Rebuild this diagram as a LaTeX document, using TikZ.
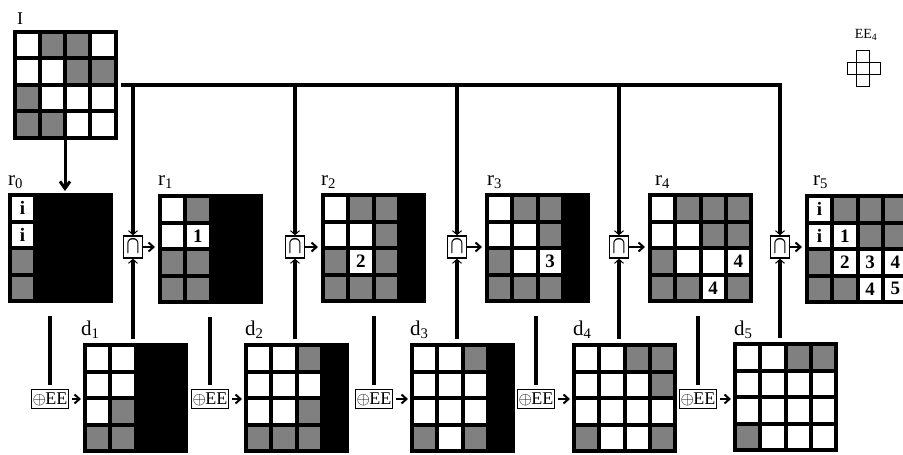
\documentclass[tikz,border=0pt]{standalone}
\usepackage{fontspec}
\setmainfont{Liberation Serif}
\usepackage{graphicx}
\usetikzlibrary{arrows.meta}
\definecolor{cellgray}{gray}{0.5}
\tikzset{
 gridbox/.style={fill=black, minimum width=105pt, minimum height=110pt, inner sep=0pt, outer sep=0pt},
 cell/.style={minimum width=21.25pt, minimum height=22.5pt, inner sep=0pt, outer sep=0pt, font=\fontsize{19}{19}\selectfont\bfseries},
 cW/.style={fill=white}, cG/.style={fill=cellgray}, cB/.style={fill=black},
 lab/.style={font=\fontsize{21}{21}\selectfont, inner sep=0pt, anchor=base west},
 capbox/.style={draw, line width=1.4pt, fill=white, minimum width=19pt, minimum height=22pt, inner sep=0pt},
 eebox/.style={draw, line width=1.2pt, fill=white, minimum width=35pt, minimum height=19pt, inner sep=1pt},
 busline/.style={line width=3.5pt},
 feed/.style={line width=3.5pt, -{Straight Barb[length=4pt,width=9pt,line width=1pt]}},
 plain/.style={line width=3.5pt},
 smallarr/.style={line width=2pt, -{Straight Barb[length=5pt,width=9pt]}},
}
\newcommand\pixgrid[4]{%
  \node[gridbox] (#1) at ({#2+52.5},{#3+55}) {};
  \foreach \f/\t [count=\k from 0] in {#4}{%
    \pgfmathtruncatemacro\gr{int(\k/4)}%
    \pgfmathtruncatemacro\gc{mod(\k,4)}%
    \node[cell,\f] (#1c\k) at ({#2+4+\gc*25.25+10.625},{#3+4+\gr*26.5+11.25}) {\t};
  }%
}
\newcommand\capsym{\fontsize{18}{18}\selectfont\scalebox{1}[1.45]{\boldmath$\cap$}}
\newcommand\eetext{{\fontsize{16}{16}\selectfont$\oplus$}\kern-0.5pt{\fontsize{18}{18}\selectfont EE}}
\begin{document}
\begin{tikzpicture}[x=1pt,y=-1pt]
\useasboundingbox (0,0) rectangle (903,455);
\clip (0,0) rectangle (903,455);
% grids
\pixgrid{I}{12.5}{29.5}{cW/{},cG/{},cG/{},cW/{}, cW/{},cW/{},cG/{},cG/{}, cG/{},cW/{},cW/{},cW/{}, cG/{},cG/{},cW/{},cW/{}}
\pixgrid{r0}{8}{193}{cW/i,cB/{},cB/{},cB/{}, cW/i,cB/{},cB/{},cB/{}, cG/{},cB/{},cB/{},cB/{}, cG/{},cB/{},cB/{},cB/{}}
\pixgrid{r1}{158}{194}{cW/{},cG/{},cB/{},cB/{}, cW/{},cW/1,cB/{},cB/{}, cG/{},cG/{},cB/{},cB/{}, cG/{},cG/{},cB/{},cB/{}}
\pixgrid{r2}{321}{193}{cW/{},cG/{},cG/{},cB/{}, cW/{},cW/{},cG/{},cB/{}, cG/{},cW/2,cG/{},cB/{}, cG/{},cG/{},cG/{},cB/{}}
\pixgrid{r3}{485}{193}{cW/{},cG/{},cG/{},cB/{}, cW/{},cW/{},cG/{},cB/{}, cG/{},cW/{},cW/3,cB/{}, cG/{},cG/{},cG/{},cB/{}}
\pixgrid{r4}{648}{193}{cW/{},cG/{},cG/{},cG/{}, cW/{},cW/{},cG/{},cG/{}, cG/{},cW/{},cW/{},cW/4, cG/{},cG/{},cW/4,cG/{}}
\pixgrid{r5}{805}{194}{cW/i,cG/{},cG/{},cG/{}, cW/i,cW/1,cG/{},cG/{}, cG/{},cW/2,cW/3,cW/4, cG/{},cG/{},cW/4,cW/5}
\pixgrid{d1}{83}{343}{cW/{},cW/{},cB/{},cB/{}, cW/{},cW/{},cB/{},cB/{}, cW/{},cG/{},cB/{},cB/{}, cG/{},cG/{},cB/{},cB/{}}
\pixgrid{d2}{244}{343}{cW/{},cW/{},cG/{},cB/{}, cW/{},cW/{},cW/{},cB/{}, cW/{},cW/{},cG/{},cB/{}, cG/{},cG/{},cG/{},cB/{}}
\pixgrid{d3}{410}{343}{cW/{},cW/{},cG/{},cB/{}, cW/{},cW/{},cW/{},cB/{}, cW/{},cW/{},cW/{},cB/{}, cG/{},cW/{},cG/{},cB/{}}
\pixgrid{d4}{572}{343}{cW/{},cW/{},cG/{},cG/{}, cW/{},cW/{},cW/{},cG/{}, cW/{},cW/{},cW/{},cW/{}, cG/{},cW/{},cW/{},cG/{}}
\pixgrid{d5}{733}{342}{cW/{},cW/{},cG/{},cG/{}, cW/{},cW/{},cW/{},cW/{}, cW/{},cW/{},cW/{},cW/{}, cG/{},cW/{},cW/{},cW/{}}
% labels
\node[lab, font=\fontsize{18}{18}\selectfont] (Il) at (17,24) {I};
\node[lab] (r0l) at (8,185) {r\textsubscript{0}};
\node[lab] (r1l) at (158,185) {r\textsubscript{1}};
\node[lab] (r2l) at (321,185) {r\textsubscript{2}};
\node[lab] (r3l) at (487,185) {r\textsubscript{3}};
\node[lab] (r4l) at (655,185) {r\textsubscript{4}};
\node[lab] (r5l) at (813,185) {r\textsubscript{5}};
\node[lab] (d1l) at (81,335) {d\textsubscript{1}};
\node[lab] (d2l) at (245,335) {d\textsubscript{2}};
\node[lab] (d3l) at (410,335) {d\textsubscript{3}};
\node[lab] (d4l) at (573,335) {d\textsubscript{4}};
\node[lab] (d5l) at (734,335) {d\textsubscript{5}};
% structuring element
\node[inner sep=0pt, font=\fontsize{14}{14}\selectfont] (eelabel) at (866,35) {EE\textsubscript{4}};
\draw[line width=0.9pt] (856,50) rectangle (869,86);
\draw[line width=0.9pt] (847,62) rectangle (880,74);
% operator boxes
\coordinate (busL) at (121,85);
\foreach \i/\x in {1/133,2/295,3/457,4/619,5/780}{
  \node[capbox] (cap\i) at (\x,247) {\capsym};
}
\foreach \i/\x in {1/50,2/210,3/374,4/536,5/698}{
  \node[eebox] (ee\i) at (\x,399) {\eetext};
}
% I -> r0
\draw[line width=3pt, -{Straight Barb[length=7pt,width=10pt]}, shorten >=2pt] (I.south) -- (I.south |- r0.north);
% bus
\draw[busline] (busL) -- ([xshift=1.75pt]cap5.north |- busL);
\foreach \i in {1,...,5}{
  \draw[feed] (cap\i.north |- busL) -- (cap\i.north);
}
% d -> cap
\foreach \i in {1,...,5}{
  \draw[feed, shorten <=4pt] (cap\i.south |- d\i.north) -- (cap\i.south);
}
% cap -> r
\draw[smallarr, shorten >=3pt] (cap1.east) -- (r1.west |- cap1.east);
\draw[smallarr, shorten >=3pt] (cap2.east) -- (r2.west |- cap2.east);
\draw[smallarr, shorten >=3pt] (cap3.east) -- (r3.west |- cap3.east);
\draw[smallarr, shorten >=3pt] (cap4.east) -- (r4.west |- cap4.east);
\draw[smallarr, shorten >=3pt] (cap5.east) -- (r5.west |- cap5.east);
% r -> ee
\draw[plain, shorten <=13pt, shorten >=4pt] (ee1.north |- r0.south) -- (ee1.north);
\draw[plain, shorten <=13pt, shorten >=4pt] (ee2.north |- r1.south) -- (ee2.north);
\draw[plain, shorten <=13pt, shorten >=4pt] (ee3.north |- r2.south) -- (ee3.north);
\draw[plain, shorten <=13pt, shorten >=4pt] (ee4.north |- r3.south) -- (ee4.north);
\draw[plain, shorten <=13pt, shorten >=4pt] (ee5.north |- r4.south) -- (ee5.north);
% ee -> d
\foreach \i in {1,...,5}{
  \draw[smallarr, shorten <=3pt, shorten >=2pt] (ee\i.east) -- (d\i.west |- ee\i.east);
}
\end{tikzpicture}
\end{document}
